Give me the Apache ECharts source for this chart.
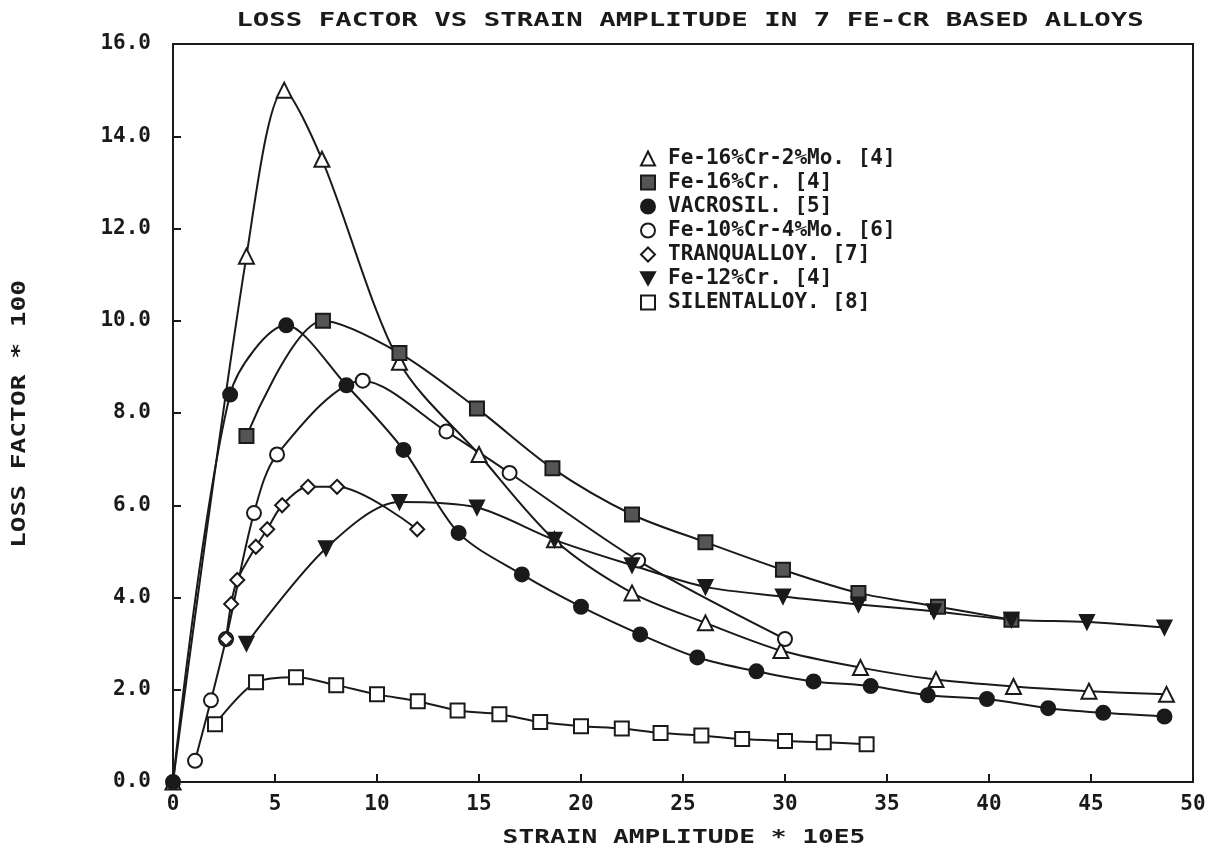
<!DOCTYPE html>
<html>
<head>
<meta charset="utf-8">
<script src="https://cdn.jsdelivr.net/npm/echarts@6/dist/echarts.min.js"></script>
<style>
  html, body { margin: 0; padding: 0; background: #fff; }
  #main { width: 1212px; height: 856px; }
</style>
</head>
<body>
<div id="main"></div>
<script>
// strain amplitude * 10E5 vs loss factor * 100
var feCr16Mo2 = [[0, 0], [3.6, 11.4], [5.45, 15.0], [7.3, 13.5], [11.1, 9.1], [15.0, 7.1], [18.7, 5.25], [22.5, 4.1], [26.1, 3.45], [29.8, 2.85], [33.7, 2.48], [37.4, 2.22], [41.2, 2.07], [44.9, 1.97], [48.7, 1.9]];
var feCr16 = [[3.6, 7.5], [7.35, 10.0], [11.1, 9.3], [14.9, 8.1], [18.6, 6.8], [22.5, 5.8], [26.1, 5.2], [29.9, 4.6], [33.6, 4.1], [37.5, 3.8], [41.1, 3.52]];
var vacrosil = [[0, 0], [2.8, 8.4], [5.55, 9.9], [8.5, 8.6], [11.3, 7.2], [14.0, 5.4], [17.1, 4.5], [20.0, 3.8], [22.9, 3.2], [25.7, 2.7], [28.6, 2.4], [31.4, 2.18], [34.2, 2.08], [37.0, 1.88], [39.9, 1.8], [42.9, 1.6], [45.6, 1.5], [48.6, 1.42]];
var feCr10Mo4 = [[1.08, 0.46], [1.86, 1.77], [2.6, 3.1], [3.97, 5.83], [5.1, 7.1], [9.3, 8.7], [13.4, 7.6], [16.5, 6.7], [22.8, 4.8], [30.0, 3.1]];
var tranqualloy = [[2.6, 3.1], [2.85, 3.86], [3.15, 4.38], [4.06, 5.1], [4.62, 5.48], [5.35, 6.0], [6.62, 6.4], [8.04, 6.4], [11.97, 5.48]];
var feCr12 = [[3.6, 3.0], [7.5, 5.07], [11.1, 6.07], [14.9, 5.95], [18.7, 5.25], [22.5, 4.7], [26.1, 4.23], [29.9, 4.02], [33.6, 3.85], [37.3, 3.7], [41.1, 3.52], [44.8, 3.47], [48.6, 3.35]];
var silentalloy = [[2.06, 1.25], [4.07, 2.16], [6.03, 2.27], [8.0, 2.1], [10.0, 1.9], [12.0, 1.75], [13.95, 1.55], [16.0, 1.47], [18.0, 1.3], [20.0, 1.21], [22.0, 1.16], [23.9, 1.06], [25.9, 1.01], [27.9, 0.93], [30.0, 0.89], [31.9, 0.86], [34.0, 0.82]];

var names = ['Fe-16%Cr-2%Mo. [4]', 'Fe-16%Cr. [4]', 'VACROSIL. [5]', 'Fe-10%Cr-4%Mo. [6]', 'TRANQUALLOY. [7]', 'Fe-12%Cr. [4]', 'SILENTALLOY. [8]'];

var chartDom = document.getElementById('main');
var myChart = echarts.init(chartDom, null, { renderer: 'canvas' });
var font = 'DejaVu Sans Mono';
var ink = '#1a1a1a';
var downTri = 'path://M0,0L10,0L5,9Z';
var symbols = ['triangle', 'rect', 'circle', 'circle', 'diamond', downTri, 'rect'];

function line(name, data, symbol, size, fill) {
    return {
        name: name,
        type: 'line',
        data: data,
        smooth: 0.3,
        symbol: symbol,
        symbolSize: size,
        showAllSymbol: true,
        lineStyle: { color: ink, width: 2 },
        itemStyle: { color: fill, borderColor: ink, borderWidth: 2 },
        emphasis: { disabled: true },
        z: 3
    };
}

var option = {
    animation: false,
    backgroundColor: '#fff',
    grid: { left: 173, right: 19, top: 44, bottom: 74, show: true, borderColor: ink, borderWidth: 2 },
    xAxis: {
        type: 'value',
        min: 0, max: 50, interval: 5,
        axisLine: { lineStyle: { color: ink, width: 2 } },
        axisTick: { inside: true, length: 8, lineStyle: { color: ink, width: 2 } },
        axisLabel: { color: ink, fontFamily: font, fontWeight: 'bold', fontSize: 21, margin: 12 },
        splitLine: { show: false }
    },
    yAxis: {
        type: 'value',
        min: 0, max: 16, interval: 2,
        axisLine: { lineStyle: { color: ink, width: 2 } },
        axisTick: { inside: true, length: 8, lineStyle: { color: ink, width: 2 } },
        axisLabel: { color: ink, fontFamily: font, fontWeight: 'bold', fontSize: 21, margin: 22, formatter: function (v) { return v.toFixed(1); } },
        splitLine: { show: false }
    },
    legend: {
        orient: 'vertical',
        left: 635, top: 143,
        itemWidth: 14, itemHeight: 14, itemGap: 3,
        textStyle: { color: ink, fontFamily: font, fontWeight: 'bold', fontSize: 21, padding: [0, 0, 0, 8] },
        data: names.map(function (n, i) { return { name: n, icon: symbols[i] }; })
    },
    graphic: [
        { type: 'text', x: 690, y: 21, scaleX: 1.37, style: { text: 'LOSS FACTOR VS STRAIN AMPLITUDE IN 7 FE-CR BASED ALLOYS', font: 'bold 20px ' + font, fill: ink, textAlign: 'center', textVerticalAlign: 'middle' } },
        { type: 'text', x: 684, y: 838, scaleX: 1.31, style: { text: 'STRAIN AMPLITUDE * 10E5', font: 'bold 20px ' + font, fill: ink, textAlign: 'center', textVerticalAlign: 'middle' } },
        { type: 'text', x: 20, y: 414, rotation: Math.PI / 2, scaleX: 1.31, style: { text: 'LOSS FACTOR * 100', font: 'bold 20px ' + font, fill: ink, textAlign: 'center', textVerticalAlign: 'middle' } }
    ],
    series: [
        line(names[0], feCr16Mo2, symbols[0], 15, '#fff'),
        line(names[1], feCr16, symbols[1], 14, '#555'),
        line(names[2], vacrosil, symbols[2], 14, ink),
        line(names[3], feCr10Mo4, symbols[3], 14, '#fff'),
        line(names[4], tranqualloy, symbols[4], 14, '#fff'),
        line(names[5], feCr12, symbols[5], 14, ink),
        line(names[6], silentalloy, symbols[6], 14, '#fff')
    ]
};
option && myChart.setOption(option);
</script>
</body>
</html>
